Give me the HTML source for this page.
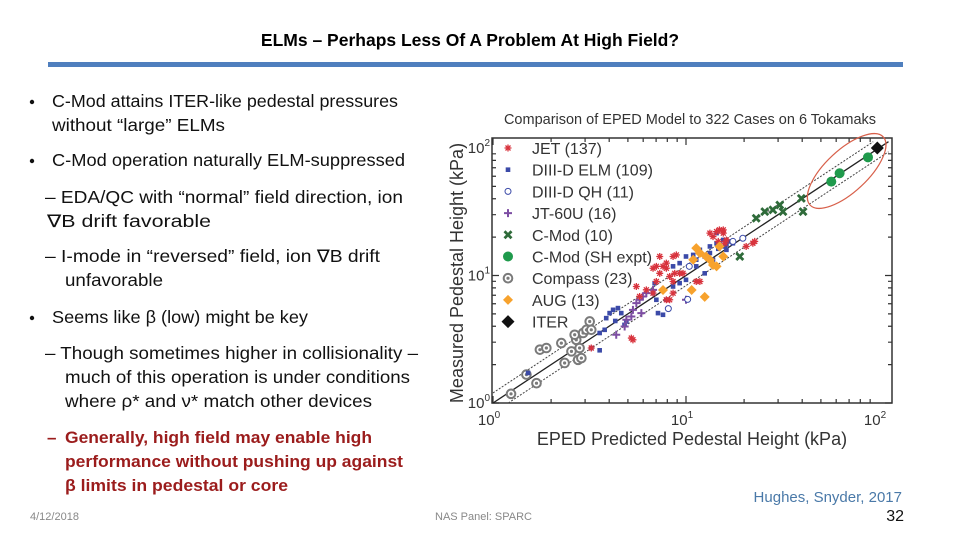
<!DOCTYPE html>
<html><head><meta charset="utf-8"><style>
html,body{margin:0;padding:0;background:#fff;}
svg{display:block;}
.t{font-family:"Liberation Sans",sans-serif;}
.c{font-family:"Liberation Sans","DejaVu Sans",sans-serif;}
</style></head><body>
<svg id="page" width="960" height="540" viewBox="0 0 960 540" xmlns="http://www.w3.org/2000/svg">
<text x="470" y="46" text-anchor="middle" class="c" font-size="17.5" font-weight="bold" fill="#000">ELMs – Perhaps Less Of A Problem At High Field?</text>
<rect x="48" y="62" width="855" height="5" fill="#4f7fbe"/>
<g class="c" font-size="17.6" fill="#111">
<circle cx="32" cy="102" r="2.2" fill="#111"/>
<text x="52" y="107" textLength="346" lengthAdjust="spacingAndGlyphs">C-Mod attains ITER-like pedestal pressures</text>
<text x="52" y="131" textLength="173" lengthAdjust="spacingAndGlyphs">without “large” ELMs</text>
<circle cx="32" cy="161" r="2.2" fill="#111"/>
<text x="52" y="166" textLength="353" lengthAdjust="spacingAndGlyphs">C-Mod operation naturally ELM-suppressed</text>
<text x="45" y="203" textLength="358" lengthAdjust="spacingAndGlyphs">– EDA/QC with “normal” field direction, ion</text>
<text x="47" y="227" textLength="164" lengthAdjust="spacingAndGlyphs">∇B drift favorable</text>
<text x="45" y="262" textLength="335" lengthAdjust="spacingAndGlyphs">– I-mode in “reversed” field, ion ∇B drift</text>
<text x="65" y="286" textLength="98" lengthAdjust="spacingAndGlyphs">unfavorable</text>
<circle cx="32" cy="318" r="2.2" fill="#111"/>
<text x="52" y="323" textLength="256" lengthAdjust="spacingAndGlyphs">Seems like β (low) might be key</text>
<text x="45" y="359" textLength="373" lengthAdjust="spacingAndGlyphs">– Though sometimes higher in collisionality –</text>
<text x="65" y="383" textLength="345" lengthAdjust="spacingAndGlyphs">much of this operation is under conditions</text>
<text x="65" y="407" textLength="307" lengthAdjust="spacingAndGlyphs">where ρ* and ν* match other devices</text>
<g fill="#9b1c1c" font-weight="bold" font-size="17">
<text x="47" y="443">–</text>
<text x="65" y="443" textLength="307" lengthAdjust="spacingAndGlyphs">Generally, high field may enable high</text>
<text x="65" y="467" textLength="338" lengthAdjust="spacingAndGlyphs">performance without pushing up against</text>
<text x="65" y="491" textLength="223" lengthAdjust="spacingAndGlyphs">β limits in pedestal or core</text>
</g></g>
<text x="30" y="520" class="c" font-size="11" fill="#888">4/12/2018</text>
<text x="435" y="520" class="c" font-size="11" fill="#888">NAS Panel: SPARC</text>
<text x="902" y="502" text-anchor="end" class="c" font-size="15" fill="#4a79a8">Hughes, Snyder, 2017</text>
<text x="904" y="521" text-anchor="end" class="c" font-size="16" fill="#111">32</text>

<text x="690" y="124" text-anchor="middle" class="t" font-size="14.5" fill="#333">Comparison of EPED Model to 322 Cases on 6 Tokamaks</text>
<text transform="translate(463,273) rotate(-90)" text-anchor="middle" class="t" font-size="18" fill="#333">Measured Pedestal Height (kPa)</text>
<text x="692" y="445" text-anchor="middle" class="t" font-size="18" fill="#333">EPED Predicted Pedestal Height (kPa)</text>
<g id="chart"></g>
</svg>
<script>
const xTickLabels=["10","10","10"], tickExps=["0","1","2"], tickVals=[1,10,100];
const jetX=[5.53,6.75,7.31,7.6,7.91,8.23,8.57,8.74,8.91,7.02,6.23,8.57,8.23,5.21,3.23,13.8,14.4,14.9,15.6,14.7,22.2,22.7,20.5,7.31,8.57,9.65,11.8,11.3,5.75,6.75,7.91,15.6,13.3,5.31,7.91,7.02,9.27,16.2,15.9];
const jetY=[8.2,11.4,10.4,11.8,12.5,9.82,14.1,10.4,14.5,8.97,7.72,7.27,6.45,3.23,2.7,20.2,22.1,22.8,21.5,18.5,17.9,18.5,16.9,14.1,8.97,10.4,8.97,8.97,6.85,7.27,6.45,22.8,21.5,3.13,11.4,11.8,10.4,19.0,17.9];
const d3dX=[3.86,4.02,4.19,4.44,4.62,4.91,3.57,3.79,3.23,3.57,1.52,7.16,7.6,7.91,8.57,9.27,10.0,10.9,11.8,13.3,14.4,15.6,16.8,14.4,16.2,17.5,8.57,9.27,10.0,7.02,6.88,6.75,11.3,13.8,15.9,12.5,13.3,14.7,15.6,16.2,11.3,12.5,4.3,4.8];
const d3dY=[4.63,5.07,5.38,5.55,5.07,4.36,3.54,3.75,2.7,2.59,1.72,5.07,4.92,6.45,8.2,8.71,9.25,14.5,15.9,16.9,17.9,19.0,18.5,21.5,15.9,17.9,11.8,12.5,14.1,6.45,8.71,7.27,11.8,13.3,16.9,14.1,15.0,16.2,14.1,17.5,13.3,10.4,4.4,4.1];
const qhX=[8.1,10.2,19.7,10.4,17.5];
const qhY=[5.5,6.5,19.6,11.8,18.5];
const jtX=[4.35,4.91,5.21,5.31,5.75,5.98,6.23,6.75,5.87,4.81,5.53,10.0];
const jtY=[3.43,4.5,4.77,5.38,6.45,6.85,7.27,7.72,5.07,3.98,6.07,6.45];
const cmodX=[23.1,25.6,28.2,30.6,31.8,39.6,40.4,19.0];
const cmodY=[28.1,31.7,32.7,35.7,31.7,40.3,31.7,14.1];
const shX=[56.6,62.5,87.7];
const shY=[54.5,63.4,84.5];
const compX=[1.24,1.49,1.68,1.75,1.89,2.26,2.35,2.55,2.7,2.76,2.87,2.65,2.93,3.05,3.17,3.23,2.81];
const compY=[1.18,1.67,1.43,2.62,2.7,2.95,2.06,2.54,3.13,2.18,2.25,3.43,3.54,3.75,4.36,3.75,2.7];
const augX=[11.3,11.8,12.7,13.3,13.8,15.6,10.7,12.5,7.6,10.9,14.4,14.9];
const augY=[16.4,15.0,14.1,13.3,12.1,14.1,7.7,6.8,7.7,13.3,11.8,16.9];
const iterX=[98];
const iterY=[100];
const legendLabels=["JET (137)","DIII-D ELM (109)","DIII-D QH (11)","JT-60U (16)","C-Mod (10)","C-Mod (SH expt)","Compass (23)","AUG (13)","ITER"];

const NS="http://www.w3.org/2000/svg";
const X0=493,DX=193,Y0=403,DY=127.5,L=492,R=892,T=138,B=403;
const sx=v=>X0+DX*Math.log10(v), sy=v=>Y0-DY*Math.log10(v);
const g=document.getElementById('chart');
function mk(tag,attrs,parent){const e=document.createElementNS(NS,tag);for(const k in attrs)e.setAttribute(k,attrs[k]);(parent||g).appendChild(e);return e;}
let fr=mk('rect',{x:L,y:T,width:R-L,height:B-T,fill:'none',stroke:'#333','stroke-width':1.5});


for(let d=0;d<2;d++)for(let m=1;m<10;m++){
 const v=Math.pow(10,d)*m, len=m===1?7:4;
 const xp=sx(v), yp=sy(v);
 const t1=mk('path',{d:`M${xp},${B}v${-len}M${xp},${T}v${len}M${L},${yp}h${len}M${R},${yp}h${-len}`,stroke:'#333','stroke-width':1.2});
 
 
}
tickVals.forEach((v,i)=>{
 const tx=mk('text',{x:sx(v)-4,y:425,'text-anchor':'middle','font-size':15,fill:'#333',class:'t'});
 tx.textContent=xTickLabels[i];
 const sp=mk('tspan',{dy:-7,'font-size':10},tx);sp.textContent=tickExps[i];
 
 
 const ty=mk('text',{x:490,y:sy(v)+5,'text-anchor':'end','font-size':15,fill:'#333',class:'t'});
 ty.textContent=xTickLabels[i];
 const sp2=mk('tspan',{dy:-7,'font-size':10},ty);sp2.textContent=tickExps[i];
 
 
});
[[1,'#222','none',1.3],[1.2,'#444','2,1.5',1],[1/1.2,'#444','2,1.5',1]].forEach(([f,c,da,w])=>{
 let p=mk('line',{x1:sx(Math.max(1,1/f)),y1:sy(Math.max(1,1/f)*f),x2:sx(Math.min(112,112/f)),y2:sy(Math.min(112,112/f)*f),stroke:c,'stroke-width':w,'stroke-dasharray':da});
 
 
});
function marker(type,cx,cy,parent){
 const s=parent;
 if(type==='ast'){mk('path',{d:`M${cx-3.5},${cy}h7M${cx},${cy-3.5}v7M${cx-2.5},${cy-2.5}l5,5M${cx-2.5},${cy+2.5}l5,-5`,stroke:'#d8333d','stroke-width':1.3},s);}
 else if(type==='sq'){mk('rect',{x:cx-2.3,y:cy-2.3,width:4.6,height:4.6,fill:'#3b4aa8'},s);}
 else if(type==='oc'){mk('circle',{cx,cy,r:3,fill:'#fff',stroke:'#3b4aa8','stroke-width':1},s);}
 else if(type==='plus'){mk('path',{d:`M${cx-4},${cy}h8M${cx},${cy-4}v8`,stroke:'#7d4ea3','stroke-width':2},s);}
 else if(type==='x'){mk('path',{d:`M${cx-3.5},${cy-3.5}l7,7M${cx-3.5},${cy+3.5}l7,-7`,stroke:'#2f6b3a','stroke-width':2.8},s);}
 else if(type==='gc'){mk('circle',{cx,cy,r:5,fill:'#1f9a4c'},s);}
 else if(type==='comp'){mk('circle',{cx,cy,r:4.3,fill:'#fff',stroke:'#7a7a7a','stroke-width':2},s);mk('circle',{cx,cy,r:1.6,fill:'#7a7a7a'},s);}
 else if(type==='dia'){mk('path',{d:`M${cx},${cy-5}l5,5l-5,5l-5,-5z`,fill:'#f7a22d'},s);}
 else if(type==='bdia'){mk('path',{d:`M${cx},${cy-6.5}l6.5,6.5l-6.5,6.5l-6.5,-6.5z`,fill:'#111'},s);}
}
const series=[['compass','comp',compX,compY],['diiid-elm','sq',d3dX,d3dY],['jt60u','plus',jtX,jtY],['jet','ast',jetX,jetY],['aug','dia',augX,augY],['diiid-qh','oc',qhX,qhY],['cmod','x',cmodX,cmodY],['cmod-sh','gc',shX,shY],['iter','bdia',iterX,iterY]];
series.forEach(([name,type,xs,ys])=>{
 const sg=mk('g',{});
 
 
 xs.forEach((v,i)=>{
  const pg=mk('g',{},sg);
  
  
  marker(type,sx(v),sy(ys[i]),pg);
 });
});
const el=mk('ellipse',{cx:0,cy:0,rx:50,ry:21,fill:'none',stroke:'#d8604a','stroke-width':1.2,transform:`translate(${sx(68)},${sy(66)}) rotate(-43)`});


const lt=['ast','sq','oc','plus','x','gc','comp','dia','bdia'];
const lg=mk('g',{});


legendLabels.forEach((lab,i)=>{
 const y=148+i*21.7;
 const eg=mk('g',{},lg);
 
 
 marker(lt[i],508,y,eg);
 const t=mk('text',{x:532,y:y+6,'font-size':16,fill:'#333',class:'t'},eg);
 t.textContent=lab;
});
</script>
</body></html>
